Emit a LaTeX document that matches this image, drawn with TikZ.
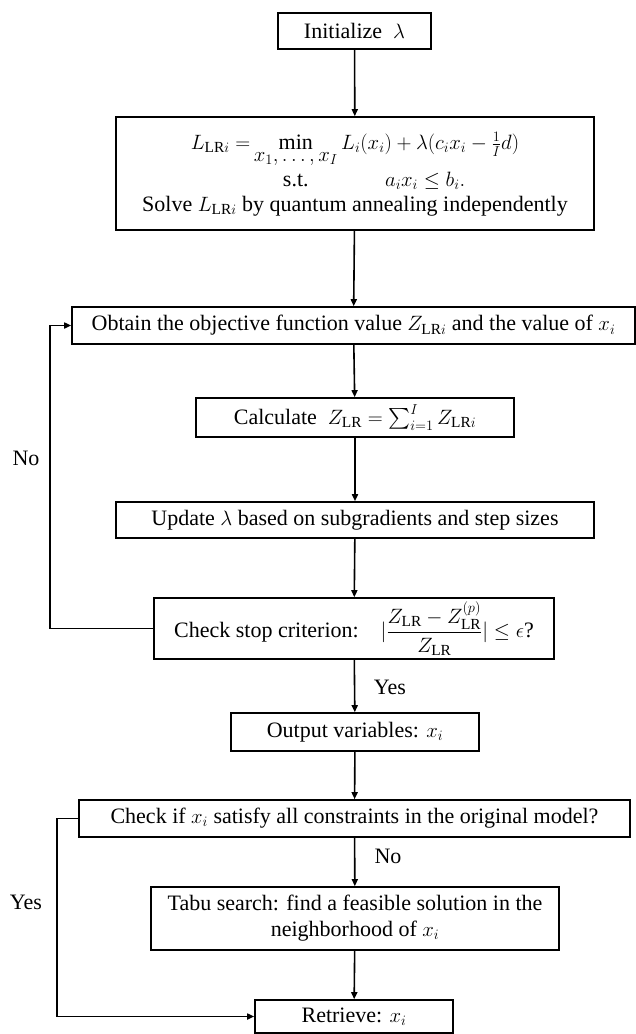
\documentclass[tikz,border=0pt]{standalone}
\usepackage{amsmath}
\usepackage{fontspec}
\setmainfont{Liberation Serif}
\usepackage{tikz}
\usetikzlibrary{arrows.meta}

\tikzset{
  box/.style={draw, line width=1.6pt, inner sep=2pt, align=center, anchor=center},
  flow/.style={line width=1.6pt, -{Triangle[length=7pt,width=6pt]}},
  lbl/.style={inner sep=0pt}
}

\begin{document}
\begin{tikzpicture}[x=1pt,y=-1pt,font=\fontsize{22}{26}\selectfont]
        \useasboundingbox (0,0) rectangle (636,1034);
        % Relaxation part
        \node[box,minimum width=153,minimum height=36] (init) at (354.5,31) {Initialize~\ $\lambda$};
        \node[box,minimum width=478,minimum height=113] (lr) at (355,173.5) {$\begin{array}{@{}r@{\,}c@{\,}l@{}}
              L_{\mathrm{LR}i} = & \mathop{\min}\limits_{\textstyle x_1,\dots,x_I} & L_i(x_i) + \lambda(c_i x_i - \tfrac{1}{I}d)\\[1pt]
              & \text{s.t.} & \qquad a_i x_i \le b_i.
            \end{array}$\\[1pt]
            Solve $L_{\mathrm{LR}i}$ by quantum annealing independently};
        \node[box,minimum width=563,minimum height=37] (obtain) at (353.5,325.5) {Obtain the objective function value $Z_{\mathrm{LR}i}$ and the value of $x_i$};
        \node[box,minimum width=318,minimum height=39] (calc) at (355,417.5) {Calculate~ $Z_{\mathrm{LR}} = \sum_{i=1}^{I} Z_{\mathrm{LR}i}$};
        \node[box,minimum width=478,minimum height=36] (update) at (355,520) {Update $\lambda$ based on subgradients and step sizes};
        \node[box,minimum width=400,minimum height=61] (stop) at (354,628.5) {Check stop criterion:\quad $|\dfrac{Z_{\mathrm{LR}}-Z_{\mathrm{LR}}^{(p)}}{Z_{\mathrm{LR}}}| \le \epsilon$?};
        % Repair part
        \node[box,minimum width=248,minimum height=38] (output) at (355,732) {Output variables: $x_i$};
        \node[box,minimum width=551,minimum height=37] (check) at (354.5,818.5) {Check if $x_i$ satisfy all constraints in the original model?};
        \node[box,minimum width=408,minimum height=63] (tabu) at (355,918.5) {Tabu search: find a feasible solution in the\\ neighborhood of $x_i$};
        \node[box,minimum width=198,minimum height=33] (retrieve) at (354,1016.5) {Retrieve: $x_i$};
        % Labels
        \node[lbl] (no1) at (26,458) {No};
        \node[lbl] (yes1) at (390,687) {Yes};
        \node[lbl] (no2) at (388,856) {No};
        \node[lbl] (yes2) at (26,902) {Yes};
        % Turning points
        \coordinate (loopno) at (50,628.5);
        \coordinate (loopyes) at (57,818.5);
        % Edges
        \draw[flow] (init) -- (lr);
        \draw[flow] (lr) -- (obtain);
        \draw[flow] (obtain) -- (calc);
        \draw[flow] (calc) -- (update);
        \draw[flow] (update) -- (stop);
        \draw[flow] (stop) -- (output);
        \draw[flow] (output) -- (check);
        \draw[flow] (check) -- (tabu);
        \draw[flow] (tabu) -- (retrieve);
        \draw[flow] (stop.west) -- (loopno) |- (obtain.west);
        \draw[flow] (check.west) -- (loopyes) |- (retrieve.west);
    \end{tikzpicture}
\end{document}
